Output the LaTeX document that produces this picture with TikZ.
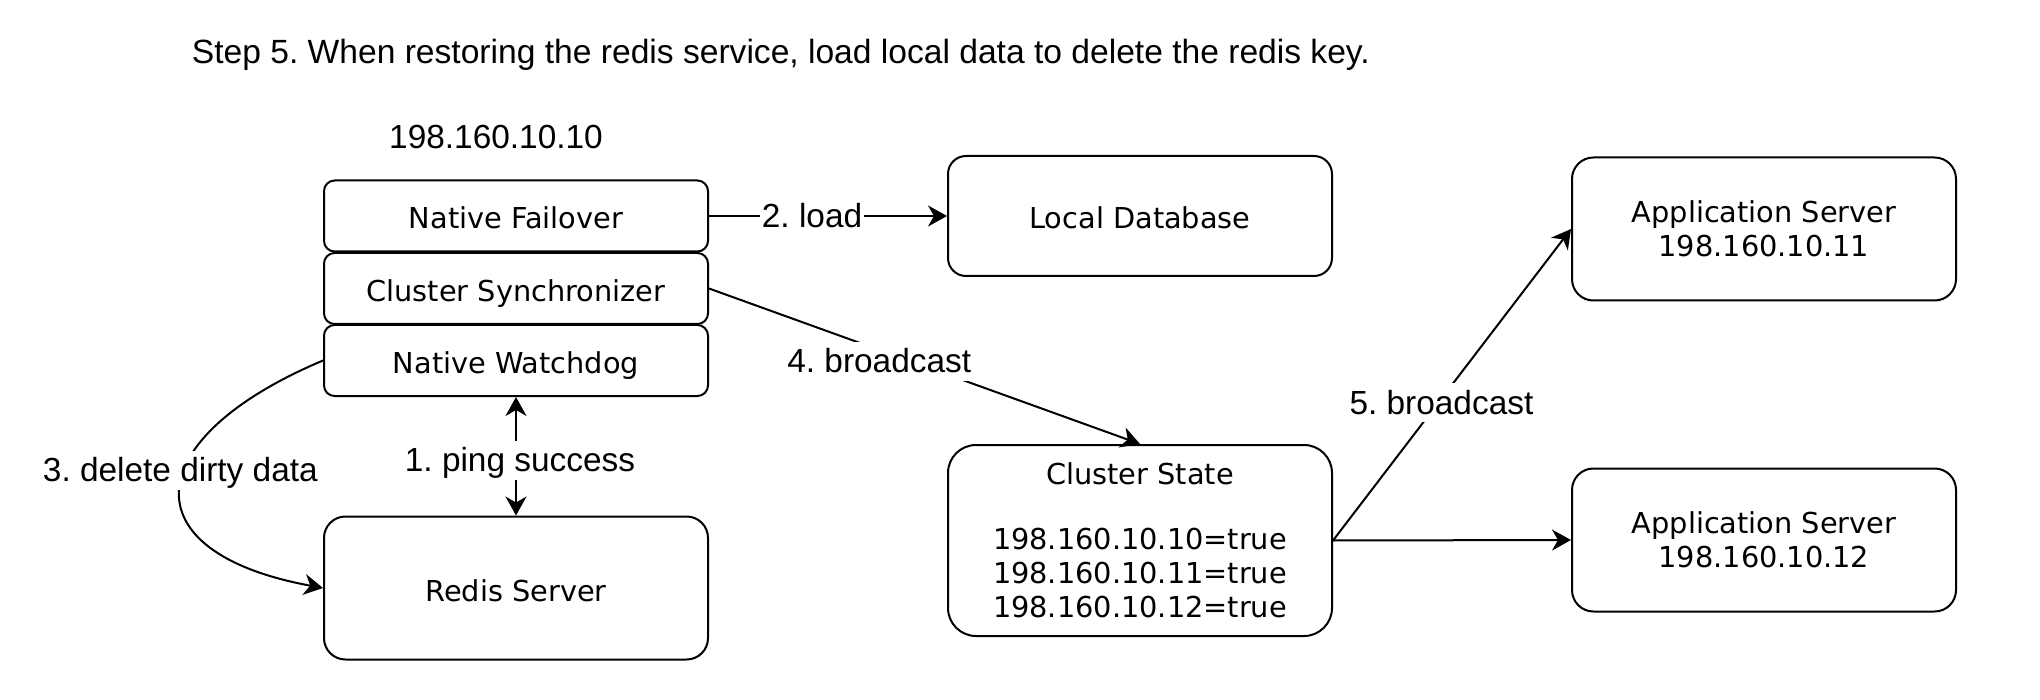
\documentclass[tikz,border=0pt]{standalone}
\usepackage{fontspec}
\setmainfont{Liberation Sans}
\newfontfamily\boxfont{DejaVu Sans}
\usetikzlibrary{arrows.meta}
\begin{document}
\frenchspacing
\begin{tikzpicture}[x=0.5pt,y=-0.5pt,
  box/.style={draw, line width=1pt, minimum width=192pt, inner sep=0pt, align=center,
    font=\boxfont\fontsize{14.4}{17}\selectfont},
  oneline/.style={text height=13pt, text depth=0pt},
  lbl/.style={fill=white, inner xsep=1pt, inner ysep=1.5pt, text height=14pt, text depth=2.5pt,
    font=\fontsize{16.7}{20}\selectfont},
  txt/.style={inner sep=0pt, font=\fontsize{16.7}{20}\selectfont},
  conn/.style={line width=1pt},
  tip/.tip={Stealth[length=9.5pt,width=10.5pt,inset=3pt]},
  arr/.style={conn, -tip},
  biarr/.style={conn, tip-tip},
]
\useasboundingbox (0,0) rectangle (2040,700);

\node[txt, anchor=base west, font=\fontsize{16.8}{20}\selectfont] (title) at (191.5,64) {Step 5. When restoring the redis service, load local data to delete the redis key.};
\node[txt, anchor=base] (ip) at (496,149) {198.160.10.10};

\node[box, oneline, minimum height=35.5pt, rounded corners=5.3pt] (nf) at (516,216) {Native Failover};
\node[box, oneline, minimum height=35.5pt, rounded corners=5.3pt] (cs) at (516,288.5) {Cluster Synchronizer};
\node[box, oneline, minimum height=35.5pt, rounded corners=5.3pt] (nw) at (516,360.5) {Native Watchdog};
\node[box, oneline, minimum height=71.5pt, rounded corners=10.7pt] (redis) at (516,588) {Redis Server};

\node[box, oneline, minimum height=60pt, rounded corners=9pt] (ldb) at (1140,216) {Local Database};
\node[box, minimum height=95.5pt, rounded corners=14pt] (cst) at (1140,540.5)
  {Cluster State\\[15.5pt]198.160.10.10=true\\198.160.10.11=true\\198.160.10.12=true};

\node[box, minimum height=71.5pt, rounded corners=10.7pt] (app1) at (1764,229) {Application Server\\198.160.10.11};
\node[box, minimum height=71.5pt, rounded corners=10.7pt] (app2) at (1764,540) {Application Server\\198.160.10.12};

\draw[arr] (nf.east) -- node[lbl, pos=0.433] {2. load} (ldb.west);
\draw[arr] (cs.east) -- node[lbl, pos=0.395, yshift=-5.75pt] {4. broadcast} (cst.north);
\draw[biarr] (nw.south) -- node[lbl, pos=0.5, xshift=2pt, yshift=-2.1pt] {1. ping success} (redis.north);
\draw[arr] (nw.west) .. controls (139,438) and (127,552) .. node[lbl, pos=0.45, xshift=-1pt, yshift=3.25pt] {3. delete dirty data} (redis.west);
\draw[arr] (cst.east) -- node[lbl, pos=0.4556, yshift=-2pt] {5. broadcast} (app1.west);
\draw[arr] (cst.east) -- (app2.west);
\end{tikzpicture}
\end{document}
